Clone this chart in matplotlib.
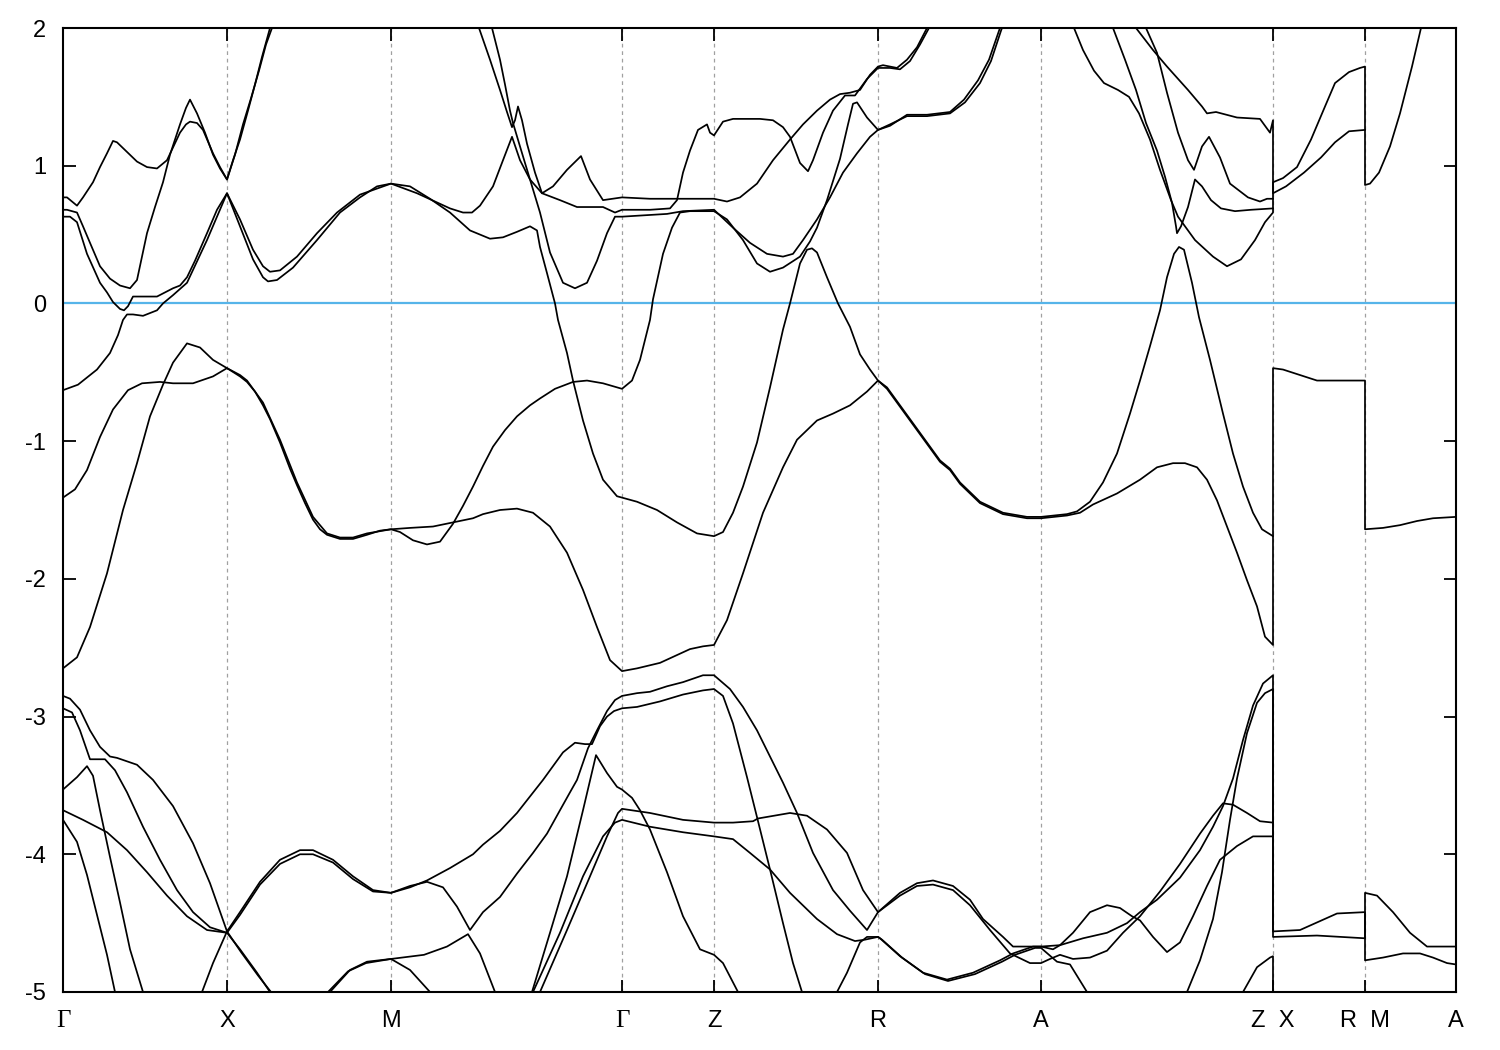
import matplotlib
matplotlib.use('Agg')
import matplotlib.pyplot as plt

plt.rcParams['font.family'] = ['Liberation Sans', 'DejaVu Sans']
plt.rcParams['axes.unicode_minus'] = False

# high-symmetry points along the path (arb. k units) and their labels
k_ticks = [0, 164, 328, 559, 651, 815, 978, 1210, 1302, 1393]
k_labels = ['Γ', 'X', 'M', 'Γ', 'Z', 'R', 'A', 'Z  X', 'R  M', 'A']
e_ticks = [-5, -4, -3, -2, -1, 0, 1, 2]
e_fermi = 0.0

# bands: (k, E in eV)
band_t1 = [(0, .77), (4, .77), (9, .74), (14, .71), (20, .77), (30, .88), (37, .99), (44, 1.09), (50, 1.18),
           (54, 1.17), (64, 1.10), (74, 1.03), (84, .99), (94, .98), (104, 1.04), (117, 1.24), (123, 1.30),
           (127, 1.32), (134, 1.31), (140, 1.26), (150, 1.09), (157, .99), (164, .90), (170, 1.04), (177, 1.19),
           (185, 1.40), (192, 1.59), (199, 1.79), (207, 2.0), (212, 2.15)]
band_t2 = [(0, .68), (4, .68), (14, .66), (20, .56), (27, .44), (37, .27), (47, .18), (57, .13), (67, .11),
           (74, .17), (84, .51), (92, .70), (100, .88), (107, 1.08), (117, 1.30), (123, 1.42), (127, 1.48),
           (134, 1.38), (142, 1.24), (150, 1.08), (157, .98), (164, .90), (172, 1.08), (180, 1.30), (188, 1.49),
           (196, 1.69), (203, 1.88), (209, 2.0), (214, 2.15)]
band_t3 = [(0, .63), (7, .63), (14, .59), (24, .36), (37, .15), (44, .08), (50, .01), (57, -.04), (61, -.05),
           (65, -.02), (70, .05), (87, .05), (94, .05), (102, .08), (110, .11), (117, .13), (124, .19), (132, .31),
           (144, .51), (154, .68), (164, .80),
           (177, .56), (190, .32), (200, .19), (205, .16), (214, .17), (230, .26), (254, .46), (277, .66),
           (297, .77), (314, .85), (328, .87),
           (347, .85), (367, .76), (387, .66), (407, .53), (427, .47), (440, .48), (454, .52), (467, .56),
           (474, .53), (477, .41), (484, .22), (492, 0.0), (495, -.12), (504, -.36), (510, -.56), (520, -.85),
           (530, -1.09), (540, -1.28), (554, -1.40), (559, -1.41),
           (574, -1.44), (594, -1.50), (614, -1.59), (634, -1.67), (651, -1.69),
           (660, -1.66), (670, -1.52), (680, -1.33), (694, -1.01), (707, -.61), (720, -.19), (727, 0.0),
           (737, .29), (744, .39), (749, .40), (754, .37), (764, .19), (775, 0.0), (787, -.17), (797, -.37),
           (807, -.48), (815, -.56),
           (824, -.61), (840, -.77), (860, -.97), (877, -1.14), (887, -1.20), (897, -1.30), (917, -1.44),
           (940, -1.52), (964, -1.55), (978, -1.55),
           (1004, -1.53), (1014, -1.51), (1027, -1.44), (1040, -1.30), (1054, -1.09), (1067, -.80),
           (1077, -.56), (1087, -.31), (1097, -.05), (1104, .19), (1111, .36), (1116, .41), (1121, .39),
           (1129, .15), (1136, -.10), (1147, -.41), (1160, -.80), (1170, -1.09), (1180, -1.33), (1190, -1.52),
           (1199, -1.64), (1210, -1.69)]
band_c4 = [(0, -.63), (15, -.59), (34, -.48), (47, -.36), (55, -.23), (60, -.12), (64, -.08), (70, -.08),
           (80, -.09), (94, -.05), (100, 0.0), (110, .06), (124, .15), (144, .46), (164, .80),
           (177, .61), (190, .39), (200, .27), (207, .23), (217, .24), (234, .34), (254, .51), (274, .66),
           (297, .79), (328, .87),
           (354, .80), (372, .74), (387, .69), (400, .66), (409, .66), (417, .71), (430, .85), (440, 1.04),
           (449, 1.21), (457, 1.04), (467, .90), (479, .80), (497, .75), (514, .70), (540, .70), (552, .66),
           (559, .68),
           (587, .68), (607, .69), (614, .75), (620, .95), (627, 1.11), (635, 1.26), (644, 1.30), (647, 1.24),
           (651, 1.22),
           (660, 1.32), (670, 1.34), (697, 1.34), (710, 1.33), (720, 1.28), (727, 1.21), (737, 1.02),
           (745, .96), (750, 1.04), (760, 1.24), (770, 1.40), (782, 1.51), (792, 1.51), (804, 1.63),
           (815, 1.71),
           (827, 1.71), (837, 1.70), (847, 1.76), (857, 1.88), (866, 2.0), (873, 2.15)]
band_p = [(412, 2.15), (416, 2.0), (427, 1.77), (437, 1.55), (444, 1.39), (449, 1.28), (452, 1.33), (455, 1.43),
          (459, 1.33), (464, 1.16), (472, .95), (479, .80), (490, .85), (504, .97), (518, 1.07), (527, .90),
          (540, .75), (559, .77),
          (587, .76), (614, .76), (651, .76),
          (664, .74), (677, .77), (694, .87), (710, 1.04), (727, 1.19), (740, 1.30), (754, 1.40), (767, 1.48),
          (777, 1.52), (787, 1.53), (797, 1.55), (807, 1.66), (815, 1.72),
          (820, 1.73), (834, 1.71), (844, 1.77), (854, 1.86), (864, 2.0), (872, 2.15)]
band_q = [(425, 2.15), (429, 2.0), (437, 1.77), (442, 1.59), (447, 1.40), (450, 1.31), (457, 1.14), (467, .90),
          (477, .66), (487, .37), (500, .15), (512, .11), (524, .15), (534, .31), (544, .51), (552, .63),
          (559, .63),
          (604, .65), (620, .67), (651, .68),
          (670, .55), (687, .44), (704, .36), (720, .34), (730, .36), (740, .46), (754, .61), (767, .77),
          (780, .95), (794, 1.09), (807, 1.21), (815, 1.26),
          (827, 1.29), (844, 1.37), (864, 1.37), (887, 1.39), (901, 1.48), (915, 1.62), (926, 1.77),
          (936, 1.98), (942, 2.1)]
band_c8 = [(0, -1.41), (12, -1.35), (24, -1.21), (37, -.97), (50, -.77), (65, -.63), (79, -.58), (97, -.57),
           (110, -.58), (130, -.58), (150, -.53), (164, -.47),
           (177, -.53), (184, -.57), (192, -.64), (200, -.74), (207, -.84), (217, -1.01), (227, -1.20),
           (234, -1.32), (242, -1.45), (250, -1.57), (257, -1.64), (264, -1.68), (277, -1.71), (290, -1.71),
           (304, -1.68), (317, -1.65), (328, -1.64),
           (337, -1.66), (350, -1.72), (364, -1.75), (377, -1.73), (390, -1.60), (400, -1.47), (410, -1.33),
           (420, -1.18), (430, -1.04), (442, -.92), (454, -.82), (467, -.74), (477, -.69), (492, -.62),
           (510, -.57), (524, -.56), (540, -.58), (559, -.62),
           (569, -.56), (577, -.41), (587, -.12), (590, .03), (600, .36), (609, .55), (617, .66), (627, .67),
           (651, .67),
           (664, .61), (680, .46), (694, .29), (707, .23), (720, .26), (737, .34), (747, .45), (754, .55),
           (764, .75), (777, 1.05), (785, 1.30), (790, 1.45), (794, 1.46), (804, 1.35), (815, 1.26),
           (827, 1.30), (844, 1.36), (864, 1.36), (887, 1.38), (902, 1.46), (917, 1.60), (928, 1.76),
           (938, 1.98), (944, 2.1)]
band_c9 = [(0, -2.65), (14, -2.57), (27, -2.35), (44, -1.96), (60, -1.50), (74, -1.16), (87, -.82), (100, -.59),
           (110, -.43), (124, -.29), (137, -.32), (150, -.41), (164, -.47),
           (177, -.52), (184, -.56), (200, -.72), (217, -.99), (234, -1.30), (250, -1.55), (264, -1.67),
           (277, -1.70), (290, -1.70), (304, -1.67), (328, -1.64),
           (347, -1.63), (370, -1.62), (390, -1.59), (410, -1.56), (420, -1.53), (437, -1.50), (454, -1.49),
           (470, -1.52), (487, -1.62), (504, -1.81), (520, -2.08), (534, -2.35), (547, -2.59), (559, -2.67),
           (574, -2.65), (597, -2.61), (627, -2.51), (640, -2.49), (651, -2.48),
           (664, -2.30), (680, -1.96), (700, -1.52), (720, -1.19), (734, -.99), (754, -.85), (770, -.80),
           (787, -.74), (804, -.64), (815, -.56),
           (824, -.62), (840, -.78), (860, -.98), (877, -1.15), (887, -1.21), (897, -1.31), (917, -1.45),
           (940, -1.53), (964, -1.56), (978, -1.56),
           (1004, -1.54), (1017, -1.52), (1030, -1.46), (1054, -1.38), (1077, -1.28), (1094, -1.19),
           (1110, -1.16), (1122, -1.16), (1134, -1.19), (1144, -1.28), (1154, -1.43), (1164, -1.62),
           (1174, -1.81), (1184, -2.01), (1194, -2.20), (1202, -2.42), (1210, -2.48),
           (1210, -.47), (1220, -.48), (1237, -.52), (1254, -.56), (1270, -.56), (1287, -.56), (1302, -.56),
           (1302, -1.64), (1320, -1.63), (1337, -1.61), (1354, -1.58), (1370, -1.56), (1393, -1.55)]
band_d1 = [(1007, 2.15), (1011, 2.0), (1020, 1.84), (1031, 1.69), (1041, 1.60), (1055, 1.55), (1066, 1.50),
           (1076, 1.38), (1087, 1.19), (1097, .97), (1108, .75), (1115, .63), (1132, .46), (1150, .34),
           (1164, .27), (1178, .32), (1192, .46), (1202, .59), (1210, .66),
           (1210, .88), (1220, .91), (1234, .99), (1248, 1.19), (1262, 1.43), (1272, 1.60), (1286, 1.68),
           (1297, 1.71), (1302, 1.72),
           (1302, .86), (1307, .87), (1316, .95), (1327, 1.14), (1337, 1.38), (1349, 1.72), (1358, 2.0),
           (1362, 2.15)]
band_d2 = [(1047, 2.15), (1050, 2.0), (1062, 1.77), (1073, 1.55), (1083, 1.31), (1094, 1.11), (1102, .92),
           (1109, .73), (1113, .56), (1114, .51), (1118, .56), (1125, .70), (1132, .90), (1139, .85),
           (1148, .75), (1158, .69), (1172, .67), (1188, .68), (1210, .69)]
band_d3 = [(1080, 2.15), (1083, 2.0), (1094, 1.82), (1104, 1.53), (1115, 1.24), (1125, 1.04), (1131, .97),
           (1139, 1.14), (1146, 1.21), (1157, 1.06), (1167, .87), (1185, .77), (1197, .74), (1204, .76),
           (1210, .76)]
band_d4 = [(1070, 2.15), (1073, 2.0), (1090, 1.84), (1104, 1.72), (1125, 1.55), (1139, 1.43), (1144, 1.38),
           (1153, 1.39), (1174, 1.35), (1197, 1.34), (1204, 1.27), (1207, 1.24), (1210, 1.33),
           (1210, .80), (1223, .85), (1241, .95), (1258, 1.06), (1272, 1.17), (1286, 1.25), (1302, 1.26)]
band_b1 = [(0, -2.85), (7, -2.87), (17, -2.95), (27, -3.10), (37, -3.22), (47, -3.29), (54, -3.30), (74, -3.35),
           (90, -3.46), (110, -3.65), (130, -3.92), (147, -4.21), (164, -4.56),
           (177, -4.42), (197, -4.20), (217, -4.04), (237, -3.97), (250, -3.97), (270, -4.04), (290, -4.16),
           (310, -4.26), (328, -4.28),
           (347, -4.23), (364, -4.20), (380, -4.24), (394, -4.38), (407, -4.55),
           (420, -4.42), (437, -4.31), (454, -4.14), (470, -3.99), (484, -3.85), (497, -3.68), (507, -3.55),
           (514, -3.46), (525, -3.23), (534, -3.10), (544, -2.96), (552, -2.88), (559, -2.85),
           (574, -2.83), (587, -2.82), (604, -2.78), (620, -2.75), (640, -2.70), (651, -2.70),
           (667, -2.80), (680, -2.93), (694, -3.10), (707, -3.29), (720, -3.48), (734, -3.70), (750, -3.99),
           (770, -4.26), (787, -4.41), (804, -4.55), (815, -4.42),
           (837, -4.28), (854, -4.21), (870, -4.19), (890, -4.23), (907, -4.33), (920, -4.47), (940, -4.60),
           (950, -4.67), (964, -4.67), (978, -4.67),
           (997, -4.66), (1020, -4.61), (1044, -4.57), (1064, -4.50), (1077, -4.42), (1094, -4.33),
           (1117, -4.17), (1137, -3.97), (1150, -3.80), (1160, -3.65), (1170, -3.45), (1180, -3.17),
           (1190, -2.92), (1200, -2.76), (1210, -2.70),
           (1210, -4.56), (1237, -4.55), (1274, -4.43), (1302, -4.42),
           (1302, -4.77), (1320, -4.75), (1340, -4.72), (1357, -4.72), (1370, -4.75), (1384, -4.79),
           (1393, -4.80)]
band_b2 = [(0, -2.94), (9, -2.97), (17, -3.10), (27, -3.31), (42, -3.31), (52, -3.39), (64, -3.55), (80, -3.80),
           (97, -4.04), (114, -4.26), (130, -4.42), (147, -4.53), (164, -4.57),
           (177, -4.44), (197, -4.22), (217, -4.07), (237, -4.00), (250, -4.00), (270, -4.06), (290, -4.18),
           (310, -4.27), (328, -4.28),
           (347, -4.24), (364, -4.19), (387, -4.10), (410, -4.00), (420, -3.93), (437, -3.83), (454, -3.70),
           (480, -3.46), (500, -3.26), (512, -3.19), (522, -3.20), (529, -3.20), (537, -3.07), (544, -3.00),
           (551, -2.96), (559, -2.94),
           (574, -2.93), (597, -2.89), (620, -2.84), (640, -2.81), (651, -2.80),
           (660, -2.85), (670, -3.05), (684, -3.44), (694, -3.73), (707, -4.11), (720, -4.50), (730, -4.79),
           (739, -5.0), (743, -5.2)]
band_b3 = [(0, -3.53), (14, -3.44), (24, -3.36), (30, -3.43), (37, -3.68), (47, -4.02), (57, -4.35),
           (67, -4.69), (80, -5.0), (83, -5.1)]
band_b4 = [(0, -3.68), (20, -3.75), (44, -3.84), (64, -3.97), (84, -4.13), (104, -4.30), (124, -4.45),
           (144, -4.55), (164, -4.57), (177, -4.69), (194, -4.86), (207, -5.0), (212, -5.1)]
band_b5 = [(0, -3.75), (14, -3.91), (24, -4.15), (34, -4.44), (44, -4.73), (52, -5.0), (54, -5.1)]
band_b8 = [(135, -5.1), (139, -5.0), (150, -4.79), (164, -4.56), (178, -4.71), (195, -4.88), (208, -5.0),
           (213, -5.1)]
band_mb1 = [(262, -5.1), (267, -5.0), (287, -4.84), (304, -4.78), (328, -4.76), (361, -4.73), (384, -4.67),
            (405, -4.58), (417, -4.72), (432, -5.0), (435, -5.1)]
band_mb2 = [(260, -5.1), (265, -5.0), (285, -4.85), (303, -4.79), (328, -4.76), (347, -4.84), (367, -5.0),
            (371, -5.1)]
band_lg1 = [(467, -5.1), (470, -5.0), (497, -4.57), (520, -4.16), (540, -3.87), (552, -3.77), (559, -3.75),
            (587, -3.80), (620, -3.84), (651, -3.87),
            (670, -3.89), (687, -3.99), (707, -4.11), (727, -4.28), (754, -4.47), (774, -4.58), (792, -4.63),
            (802, -4.62), (815, -4.60),
            (817, -4.61), (837, -4.74), (860, -4.86), (884, -4.91), (910, -4.86), (937, -4.77), (950, -4.72),
            (970, -4.67), (978, -4.67),
            (990, -4.69), (997, -4.66), (1010, -4.57), (1027, -4.42), (1044, -4.37), (1057, -4.39),
            (1069, -4.45), (1077, -4.48), (1090, -4.60), (1104, -4.71), (1117, -4.64), (1130, -4.45),
            (1144, -4.23), (1157, -4.04), (1174, -3.94), (1190, -3.87), (1210, -3.87)]
band_lg2 = [(474, -5.1), (477, -5.0), (504, -4.55), (527, -4.16), (544, -3.87), (555, -3.70), (559, -3.67),
            (587, -3.70), (620, -3.75), (651, -3.77),
            (670, -3.77), (690, -3.76), (695, -3.74), (727, -3.70), (744, -3.72), (764, -3.82), (784, -3.99),
            (800, -4.26), (815, -4.42),
            (837, -4.30), (854, -4.23), (870, -4.22), (890, -4.26), (907, -4.37), (927, -4.55), (947, -4.72),
            (967, -4.79), (978, -4.79),
            (987, -4.76), (997, -4.73), (1010, -4.76), (1027, -4.75), (1044, -4.70), (1060, -4.57),
            (1077, -4.45), (1097, -4.27), (1117, -4.07), (1137, -3.85), (1150, -3.72), (1160, -3.63),
            (1170, -3.64), (1184, -3.70), (1197, -3.76), (1210, -3.77)]
band_lam = [(466, -5.1), (469, -5.0), (487, -4.57), (504, -4.16), (520, -3.68), (533, -3.28), (544, -3.41),
            (554, -3.51), (559, -3.53), (569, -3.59), (577, -3.68), (587, -3.82), (604, -4.13), (620, -4.45),
            (637, -4.69), (651, -4.73), (660, -4.79), (675, -5.0), (678, -5.1)]
band_bl = [(771, -5.1), (774, -5.0), (784, -4.86), (797, -4.64), (804, -4.60), (815, -4.60), (819, -4.62),
           (839, -4.75), (862, -4.87), (885, -4.92), (912, -4.87), (939, -4.78), (952, -4.73), (972, -4.68),
           (978, -4.68), (994, -4.78), (1007, -4.80), (1024, -5.0), (1027, -5.1)]
band_r3 = [(1122, -5.1), (1124, -5.0), (1137, -4.77), (1150, -4.47), (1159, -4.13), (1167, -3.75),
           (1174, -3.45), (1184, -3.12), (1194, -2.90), (1202, -2.83), (1210, -2.80),
           (1210, -4.60), (1254, -4.59), (1302, -4.61),
           (1302, -4.28), (1314, -4.30), (1330, -4.42), (1347, -4.57), (1364, -4.67), (1380, -4.67),
           (1393, -4.67)]
band_zb = [(1177, -5.1), (1180, -5.0), (1194, -4.82), (1207, -4.75), (1210, -4.74), (1210, -5.3)]

bands = [band_t1, band_t2, band_t3, band_c4, band_p, band_q, band_c8, band_c9,
         band_d1, band_d2, band_d3, band_d4,
         band_b1, band_b2, band_b3, band_b4, band_b5, band_b8, band_mb1, band_mb2,
         band_lg1, band_lg2, band_lam, band_bl, band_r3, band_zb]

fig = plt.figure(figsize=(15, 10.5), dpi=100)
ax = fig.add_axes([63 / 1500, 1 - 992 / 1050, 1393 / 1500, 964 / 1050])

for kk in k_ticks[1:-1]:
    ax.axvline(kk, color='#a0a0a0', lw=0.9, ls=(0, (3, 3)), zorder=1)

ax.axhline(e_fermi, color='#56b4e9', lw=1.6, zorder=2)

for band in bands:
    k, e = zip(*band)
    ax.plot(k, e, color='black', lw=1.25, zorder=3)

ax.set_xlim(k_ticks[0], k_ticks[-1])
ax.set_ylim(-5, 2)
ax.set_xticks(k_ticks)
ax.set_xticklabels(k_labels)
ax.set_yticks(e_ticks)
ax.tick_params(direction='in', length=9, width=1.3, top=True, right=True, labelsize=17)
ax.tick_params(axis='x', pad=13)
ax.tick_params(axis='y', pad=12)
for lbl in ax.get_xticklabels():
    if lbl.get_text() == 'Γ':
        lbl.set_fontfamily('Liberation Serif')
        lbl.set_fontsize(18)
for sp in ax.spines.values():
    sp.set_linewidth(1.5)

fig.savefig('out.png', dpi=100)
